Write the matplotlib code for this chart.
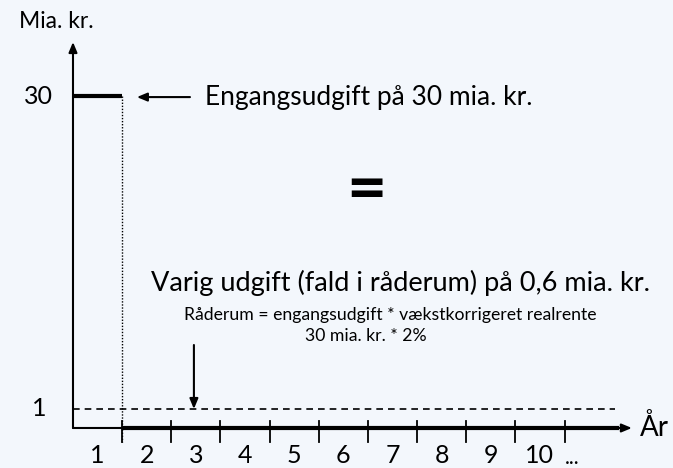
import matplotlib.pyplot as plt

plt.rcParams['font.family'] = ['Lato', 'DejaVu Sans']

# --- data ---
years = [1, 2, 3, 4, 5, 6, 7, 8, 9, 10]
year_labels = ['1', '2', '3', '4', '5', '6', '7', '8', '9', '10']
one_off = 30      # engangsudgift, mia. kr.
permanent = 1     # niveau for varig udgift (vist som 1)
rate_text = '2%'

bg = '#f3f7fc'
axis_y = -0.76    # x-aksen tegnes lidt under 0

fig = plt.figure(figsize=(6.73, 4.68), dpi=100, facecolor=bg)
ax = fig.add_axes([0, 0, 1, 1])
ax.set_facecolor(bg)
ax.set_xlim(-1.485, 12.207)
ax.set_ylim(-4.467, 38.895)
ax.axis('off')

arrow_kw = dict(arrowstyle='-|>,head_length=0.6,head_width=0.25', color='black', lw=1.5,
                shrinkA=0, shrinkB=0)

# akser
ax.annotate('', xy=(0, 35.0), xytext=(0, axis_y), arrowprops=arrow_kw)
ax.annotate('', xy=(11.37, axis_y), xytext=(0, axis_y), arrowprops=arrow_kw)
ax.plot([years[0], 11.1], [axis_y, axis_y], color='black', lw=3, solid_capstyle='butt')
for yr in years:
    ax.plot([yr, yr], [-0.08, -2.03], color='black', lw=1.3)
for yr, lab in zip(years, year_labels):
    ax.text(yr - 0.5, -3.3, lab, ha='center', va='center', fontsize=18)
ax.text(10.15, -3.5, '...', ha='center', va='center', fontsize=15)
ax.text(11.54, axis_y, 'År', ha='left', va='center', fontsize=20)

ax.text(-0.7, one_off, str(one_off), ha='center', va='center', fontsize=18)
ax.text(-0.69, permanent, str(permanent), ha='center', va='center', fontsize=18)
ax.text(-0.33, 36.86, 'Mia. kr.', ha='center', va='center', fontsize=16.5)

# engangsudgift
ax.plot([0, years[0]], [one_off, one_off], color='black', lw=3, solid_capstyle='butt')
ax.plot([years[0], years[0]], [one_off, -2.03], color='black', lw=1, linestyle=(0, (1, 1.2)))
ax.annotate('', xy=(1.30, one_off - 0.1), xytext=(2.38, one_off - 0.1), arrowprops=arrow_kw)
ax.text(2.685, one_off - 0.1, f'Engangsudgift på {one_off} mia. kr.', ha='left', va='center', fontsize=19)

ax.text(5.96, 21.15, '=', ha='center', va='center', fontsize=50, fontweight='bold')

# varig udgift
ax.plot([0, 11.03], [permanent, permanent], color='black', lw=1.2, linestyle=(0, (4, 3)))
ax.annotate('', xy=(2.46, permanent), xytext=(2.46, 6.93), arrowprops=arrow_kw)
ax.text(6.67, 12.7, 'Varig udgift (fald i råderum) på 0,6 mia. kr.', ha='center', va='center', fontsize=19.5)
ax.text(6.46, 9.7, 'Råderum = engangsudgift * vækstkorrigeret realrente', ha='center', va='center', fontsize=12.7)
ax.text(5.95, 7.75, f'{one_off} mia. kr. * {rate_text}', ha='center', va='center', fontsize=12.7)

fig.savefig('out.png', dpi=100, facecolor=bg)
